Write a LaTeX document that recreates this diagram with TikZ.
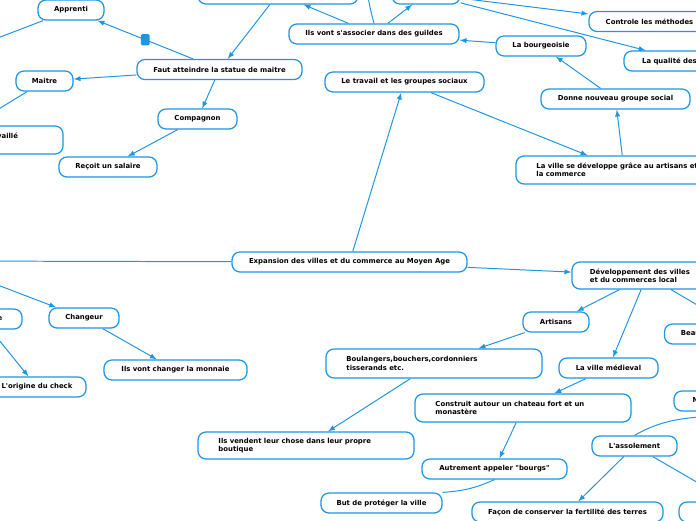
\documentclass[tikz,border=0pt]{standalone}
\usepackage{fontspec}
\setmainfont{DejaVu Sans}[Ligatures=TeXOff]
\definecolor{mmblue}{RGB}{30,150,225}

\begin{document}
\begin{tikzpicture}[x=0.025cm, y=-0.025cm,
    topic/.style={draw=mmblue, line width=0.9pt, rounded corners=0.2cm, fill=white,
        minimum height=0.5cm, inner sep=1pt, font=\fontsize{4.9}{5.8}\selectfont\bfseries},
    longtopic/.style={topic, align=left, text width=4.375cm, inner xsep=0.5125cm, minimum height=0.7cm},
    memo/.style={fill=mmblue, rounded corners=1pt, minimum width=0.22cm, minimum height=0.28cm, inner sep=0pt},
    link/.style={draw=mmblue, line width=0.7pt, -latex},
    plain/.style={draw=mmblue, line width=0.7pt}]

        \useasboundingbox (0,0) rectangle (696,520);
        \clip (0,0) rectangle (696,520);

        % Top left branch
        \node[topic, minimum width=4cm] (top1) at (278,-6) {};
        \node[topic, minimum width=1.7cm] (top2) at (426,-6) {};
        \node[topic, minimum width=1.65cm] (apprenti) at (71,10) {Apprenti};
        \node[topic, minimum width=4.125cm] (faut) at (219.5,69.5) {Faut atteindre la statue de maitre};
        \node[topic, minimum width=1.425cm] (maitre) at (44.5,81) {Maitre};
        \node[topic, minimum width=1.975cm] (compagnon) at (197.5,119) {Compagnon};
        \node[topic, minimum width=2.45cm] (recoit) at (108,167) {Reçoit un salaire};
        \node[topic, minimum width=5.75cm, minimum height=0.7cm, text width=3.5cm, align=right] (trav) at (-52,140) {travaillé\\\mbox{}};
        \coordinate (offA) at (-60,60);

        % Guildes
        \node[topic, minimum width=4.25cm] (ilsvont) at (374,34) {Ils vont s'associer dans des guildes};
        \node[topic, minimum width=2.25cm] (bourg) at (541,46) {La bourgeoisie};
        \node[topic, minimum width=3.025cm] (controle) at (649.5,21.5) {Controle les méthodes};
        \node[topic, minimum width=3.15cm] (qualite) at (687,61) {La qualité des produits};
        \coordinate (offB) at (366,-40);

        % Travail et groupes sociaux
        \node[topic, minimum width=3.975cm] (travail) at (404.5,82) {Le travail et les groupes sociaux};
        \node[topic, minimum width=3.725cm] (donne) at (615.5,99) {Donne nouveau groupe social};
        \node[longtopic] (villedev) at (624,170) {La ville se développe grâce au artisans et\\la commerce};

        % Centre
        \node[topic, minimum width=5.875cm] (expansion) at (349.5,262) {Expansion des villes et du commerce au Moyen Age};
        \coordinate (offC) at (-60,261);
        \coordinate (offD) at (-60,263);

        % Left branch
        \node[topic, minimum width=2cm] (banque) at (-18,319) {La banque};
        \node[topic, minimum width=1.75cm] (changeur) at (84,318) {Changeur};
        \node[topic, minimum width=3.575cm] (monnaie) at (175.5,370) {Ils vont changer la monnaie};
        \node[topic, minimum width=2.45cm] (origine) at (37,387) {L'origine du check};

        % Right branch
        \node[longtopic, text width=2.85cm, inner xsep=0.45cm, minimum height=0.675cm] (devel) at (647,275.5) {Développement des villes\\et du commerces local};
        \node[topic, minimum width=1.65cm] (artisans) at (556,322) {Artisans};
        \node[topic, minimum width=2.475cm] (medieval) at (608.5,368) {La ville médieval};
        \node[topic, minimum width=3.2cm] (bea) at (728.5,334) {Beaucoup de marchands};
        \node[longtopic, minimum height=0.725cm] (boulangers) at (434,363.5) {Boulangers,bouchers,cordonniers\\tisserands etc.};
        \node[longtopic] (construit) at (523,408) {Construit autour un chateau fort et un\\monastère};
        \node[longtopic, minimum height=0.675cm] (vendent) at (306,445.5) {Ils vendent leur chose dans leur propre\\boutique};
        \node[topic, minimum width=3.625cm] (autrement) at (494.5,469) {Autrement appeler "bourgs"};
        \node[topic, minimum width=3.025cm] (but) at (381.5,503) {But de protéger la ville};

        % Assolement
        \node[topic, minimum width=3.95cm] (nouv) at (753,401) {Nouvelles techniques agricoles};
        \node[topic, minimum width=2.125cm] (assol) at (634.5,446) {L'assolement};
        \node[topic, minimum width=4.775cm] (facon) at (567.5,512) {Façon de conserver la fertilité des terres};
        \node[topic, minimum width=2.55cm] (bottomr) at (730,512) {};

        % Connectors
        \draw[link] (top1) -- (faut);
        \draw[link] (faut) -- node[memo] (memo1) {} (apprenti);
        \draw[link] (faut) -- (maitre);
        \draw[link] (faut) -- (compagnon);
        \draw[link] (compagnon) -- (recoit);
        \draw[plain] (maitre) -- (trav);
        \draw[plain] (apprenti) -- (offA);
        \draw[link] (ilsvont) -- (top1);
        \draw[link] (ilsvont) -- (top2);
        \draw[plain] (ilsvont.north) to[bend left=8] (offB);
        \draw[link] (bourg) -- (ilsvont);
        \draw[link] (top2) -- (controle);
        \draw[link] (top2) -- (qualite);
        \draw[link] (expansion) -- (travail);
        \draw[link] (travail) -- (villedev);
        \draw[link] (villedev) -- (donne);
        \draw[link] (donne) -- (bourg);
        \draw[plain] (expansion) -- (offC);
        \draw[link] (offD) -- (changeur);
        \draw[link] (banque) -- (origine);
        \draw[link] (changeur) -- (monnaie);
        \draw[link] (expansion) -- (devel);
        \draw[link] (devel) -- (artisans);
        \draw[link] (devel) -- (medieval);
        \draw[link] (devel) -- (bea.north);
        \draw[link] (artisans) -- (boulangers);
        \draw[link] (boulangers) -- (vendent);
        \draw[link] (medieval) -- (construit);
        \draw[link] (construit) -- (autrement);
        \draw[plain] (autrement.south) to[bend left=10] (but.north east);
        \draw[plain] (nouv.south) to[out=190,in=30] (assol.north);
        \draw[link] (assol) -- (facon);
        \draw[link] (assol) -- (bottomr.north);

    \end{tikzpicture}
\end{document}
